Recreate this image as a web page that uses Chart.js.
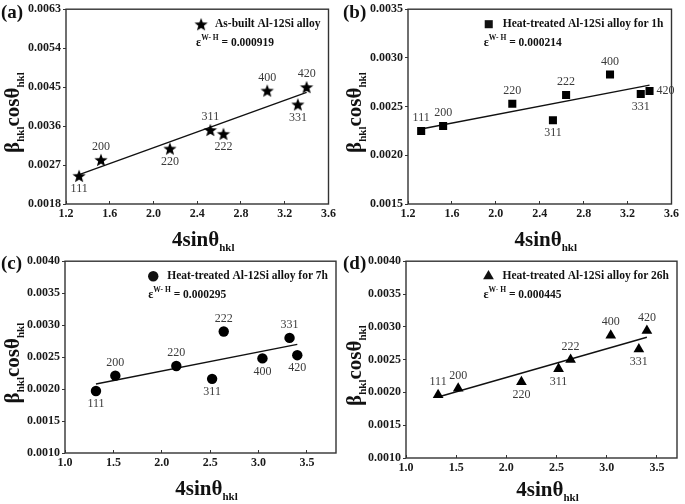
<!DOCTYPE html>
<html>
<head>
<meta charset="utf-8">
<script src="https://cdn.jsdelivr.net/npm/chart.js@4.4.1/dist/chart.umd.min.js"></script>
<style>
  body { margin: 0; background: #fff; }
  #wrap { position: relative; width: 685px; height: 504px; overflow: hidden; }
  canvas { position: absolute; }
</style>
</head>
<body>
<div id="wrap">
  <canvas id="ca" width="342" height="252" style="left:0;top:0"></canvas>
  <canvas id="cb" width="343" height="252" style="left:342px;top:0"></canvas>
  <canvas id="cc" width="342" height="252" style="left:0;top:252px"></canvas>
  <canvas id="cd" width="343" height="252" style="left:342px;top:252px"></canvas>
</div>
<script>
// reflections and their 4sin(theta) positions
const hkl = ['111', '200', '220', '311', '222', '400', '331', '420'];
const fourSinTheta = [1.32, 1.52, 2.15, 2.52, 2.64, 3.04, 3.32, 3.40];

// beta*cos(theta) per sample
const betaAsBuilt = [0.00245, 0.00282, 0.00308, 0.00351, 0.00342, 0.00442, 0.00410, 0.00450];
const beta1h = [0.00225, 0.00230, 0.00253, 0.00236, 0.00262, 0.00283, 0.00263, 0.00266];
const beta7h = [0.00197, 0.00221, 0.00236, 0.00216, 0.00290, 0.00248, 0.00280, 0.00253];
const beta26h = [0.00196, 0.00206, 0.00216, 0.00236, 0.00250, 0.00287, 0.00266, 0.00294];

// Williamson-Hall fit lines (end points)
const fitX = [1.32, 3.40];
const fitAsBuilt = [0.00248, 0.00438];
const fit1h = [0.00227, 0.00272];
const fit7h = [0.00208, 0.00270];
const fit26h = [0.00193, 0.00284];

// tick labels
const xTicksAB = [1.2, 1.6, 2.0, 2.4, 2.8, 3.2, 3.6];
const xTicksCD = [1.0, 1.5, 2.0, 2.5, 3.0, 3.5];
const yTicksA = [0.0018, 0.0027, 0.0036, 0.0045, 0.0054, 0.0063];
const yTicksB = [0.0015, 0.0020, 0.0025, 0.0030, 0.0035];
const yTicksCD = [0.0010, 0.0015, 0.0020, 0.0025, 0.0030, 0.0035, 0.0040];

const sampleNames = ['As-built Al-12Si alloy', 'Heat-treated Al-12Si alloy for 1h',
  'Heat-treated Al-12Si alloy for 7h', 'Heat-treated Al-12Si alloy for 26h'];
const strains = ['0.000919', '0.000214', '0.000295', '0.000445'];

// where each hkl label sits relative to its marker
const labelPosA = ['below', 'above', 'below', 'above', 'below', 'above', 'below', 'above'];
const labelPosB = ['above', 'above', 'above', 'below', 'above', 'above', 'below', 'right'];
const labelPosC = ['below', 'above', 'above', 'below', 'above', 'below', 'above', 'below'];
const labelPosD = ['above', 'above', 'below', 'below', 'above', 'above', 'below', 'above'];

const SERIF = '"Liberation Serif", "Times New Roman", serif';
const INK = '#1a1a1a';

// filled five point star for panel (a)
function makeStar(R) {
  const c = document.createElement('canvas');
  const s = Math.ceil(R * 2 + 2);
  c.width = s; c.height = s;
  const g = c.getContext('2d');
  g.translate(s / 2, s / 2 + R * 0.1);
  g.beginPath();
  for (let i = 0; i < 10; i++) {
    const r = i % 2 === 0 ? R : R * 0.42;
    const a = -Math.PI / 2 + i * Math.PI / 5;
    g.lineTo(r * Math.cos(a), r * Math.sin(a));
  }
  g.closePath();
  g.fillStyle = '#000';
  g.fill();
  return c;
}

// text with sub/superscripts: parts = [[text, size, dy], ...]
function drawRich(ctx, parts, x, y, align) {
  let total = 0;
  parts.forEach(p => { ctx.font = 'bold ' + p[1] + 'px ' + SERIF; total += ctx.measureText(p[0]).width; });
  let cx = align === 'center' ? x - total / 2 : x;
  ctx.textAlign = 'left';
  ctx.textBaseline = 'alphabetic';
  parts.forEach(p => {
    ctx.font = 'bold ' + p[1] + 'px ' + SERIF;
    ctx.fillText(p[0], cx, y + p[2]);
    cx += ctx.measureText(p[0]).width;
  });
}

function makePanel(id, o) {
  const decor = {
    id: 'decor',
    afterDraw(chart) {
      const ctx = chart.ctx, a = chart.chartArea;
      ctx.save();
      ctx.strokeStyle = '#333';
      ctx.lineWidth = 1.4;
      ctx.strokeRect(a.left, a.top, a.right - a.left, a.bottom - a.top);

      // hkl labels next to the markers
      ctx.fillStyle = '#3a3a3a';
      ctx.font = '12px ' + SERIF;
      chart.getDatasetMeta(0).data.forEach((p, i) => {
        const pos = o.labelPos[i];
        if (pos === 'above') {
          ctx.textAlign = 'center'; ctx.textBaseline = 'bottom';
          ctx.fillText(hkl[i], p.x, p.y - 7);
        } else if (pos === 'below') {
          ctx.textAlign = 'center'; ctx.textBaseline = 'top';
          ctx.fillText(hkl[i], p.x, p.y + 7);
        } else {
          ctx.textAlign = 'left'; ctx.textBaseline = 'middle';
          ctx.fillText(hkl[i], p.x + 7, p.y);
        }
      });

      // legend box
      ctx.fillStyle = '#111';
      ctx.font = 'bold 11.5px ' + SERIF;
      const tw = ctx.measureText(o.name).width;
      const tx = a.right - 8 - tw;
      const ly = a.top + 15;
      ctx.textAlign = 'left'; ctx.textBaseline = 'middle';
      ctx.fillText(o.name, tx, ly);
      const mx = tx - 14;
      Chart.helpers.drawPoint(ctx, { pointStyle: o.marker, radius: o.radius, rotation: 0 }, mx, ly);
      drawRich(ctx, [['\u03b5', 12, 0], ['W- H', 7.5, -6], [' = ' + o.strain, 11.5, 0]], mx - 5, a.top + 37, 'left');

      // axis titles
      ctx.fillStyle = '#111';
      drawRich(ctx, [['4sin\u03b8', 21, 0], ['hkl', 11, 5]], (a.left + a.right) / 2 + 6, o.xTitleY, 'center');
      ctx.save();
      ctx.translate(19, (a.top + a.bottom) / 2 + 6);
      ctx.rotate(-Math.PI / 2);
      drawRich(ctx, [['\u03b2', 21, 0], ['hkl', 11, 5], ['cos\u03b8', 21, 0], ['hkl', 11, 5]], 0, 0, 'center');
      ctx.restore();

      // panel tag
      ctx.font = 'bold 19px ' + SERIF;
      ctx.textAlign = 'left'; ctx.textBaseline = 'alphabetic';
      ctx.fillText(o.tag, 1, o.tagY);
      ctx.restore();
    }
  };

  const tickFont = { family: SERIF, weight: 'bold', size: 12 };

  return new Chart(document.getElementById(id), {
    type: 'scatter',
    data: {
      datasets: [
        {
          data: fourSinTheta.map((x, i) => ({ x: x, y: o.values[i] })),
          pointStyle: o.marker,
          pointRadius: o.radius,
          pointHoverRadius: o.radius,
          backgroundColor: '#000',
          borderColor: '#000',
          borderWidth: 0
        },
        {
          type: 'line',
          data: fitX.map((x, i) => ({ x: x, y: o.fit[i] })),
          borderColor: '#111',
          borderWidth: 1.4,
          pointRadius: 0,
          fill: false
        }
      ]
    },
    options: {
      responsive: false,
      animation: false,
      layout: { padding: { top: o.area.top, right: o.area.right, left: 0, bottom: 0 } },
      plugins: { legend: { display: false }, tooltip: { enabled: false } },
      scales: {
        x: {
          type: 'linear',
          min: o.xTicks[0],
          max: o.xMax,
          afterBuildTicks: s => { s.ticks = o.xTicks.map(v => ({ value: v })); },
          afterFit: s => { s.height = o.area.xh; },
          border: { display: false },
          grid: { drawOnChartArea: false, tickLength: -3, color: '#333', lineWidth: 1 },
          ticks: { padding: 6, color: INK, font: tickFont, maxRotation: 0, autoSkip: false,
                   callback: v => v.toFixed(1) }
        },
        y: {
          min: o.yTicks[0],
          max: o.yTicks[o.yTicks.length - 1],
          afterBuildTicks: s => { s.ticks = o.yTicks.map(v => ({ value: v })); },
          afterFit: s => { s.width = o.area.left; },
          border: { display: false },
          grid: { drawOnChartArea: false, tickLength: 3, color: '#333', lineWidth: 1 },
          ticks: { padding: 2, color: INK, font: tickFont, autoSkip: false,
                   callback: v => v.toFixed(4) }
        }
      }
    },
    plugins: [decor]
  });
}

makePanel('ca', {
  tag: '(a)', tagY: 18, values: betaAsBuilt, fit: fitAsBuilt, marker: makeStar(7), radius: 7,
  labelPos: labelPosA, name: sampleNames[0], strain: strains[0],
  xTicks: xTicksAB, xMax: 3.6, yTicks: yTicksA, xTitleY: 246,
  area: { left: 66, top: 8, right: 6, xh: 48 }
});
makePanel('cb', {
  tag: '(b)', tagY: 18, values: beta1h, fit: fit1h, marker: 'rect', radius: 5.7,
  labelPos: labelPosB, name: sampleNames[1], strain: strains[1],
  xTicks: xTicksAB, xMax: 3.6, yTicks: yTicksB, xTitleY: 246,
  area: { left: 66, top: 8, right: 7, xh: 48 }
});
makePanel('cc', {
  tag: '(c)', tagY: 17, values: beta7h, fit: fit7h, marker: 'circle', radius: 5.2,
  labelPos: labelPosC, name: sampleNames[2], strain: strains[2],
  xTicks: xTicksCD, xMax: 3.8, yTicks: yTicksCD, xTitleY: 243,
  area: { left: 65, top: 5, right: 6, xh: 51 }
});
makePanel('cd', {
  tag: '(d)', tagY: 17, values: beta26h, fit: fit26h, marker: 'triangle', radius: 6.2,
  labelPos: labelPosD, name: sampleNames[3], strain: strains[3],
  xTicks: xTicksCD, xMax: 3.7, yTicks: yTicksCD, xTitleY: 244,
  area: { left: 64, top: 9, right: 8, xh: 46 }
});
</script>
</body>
</html>
